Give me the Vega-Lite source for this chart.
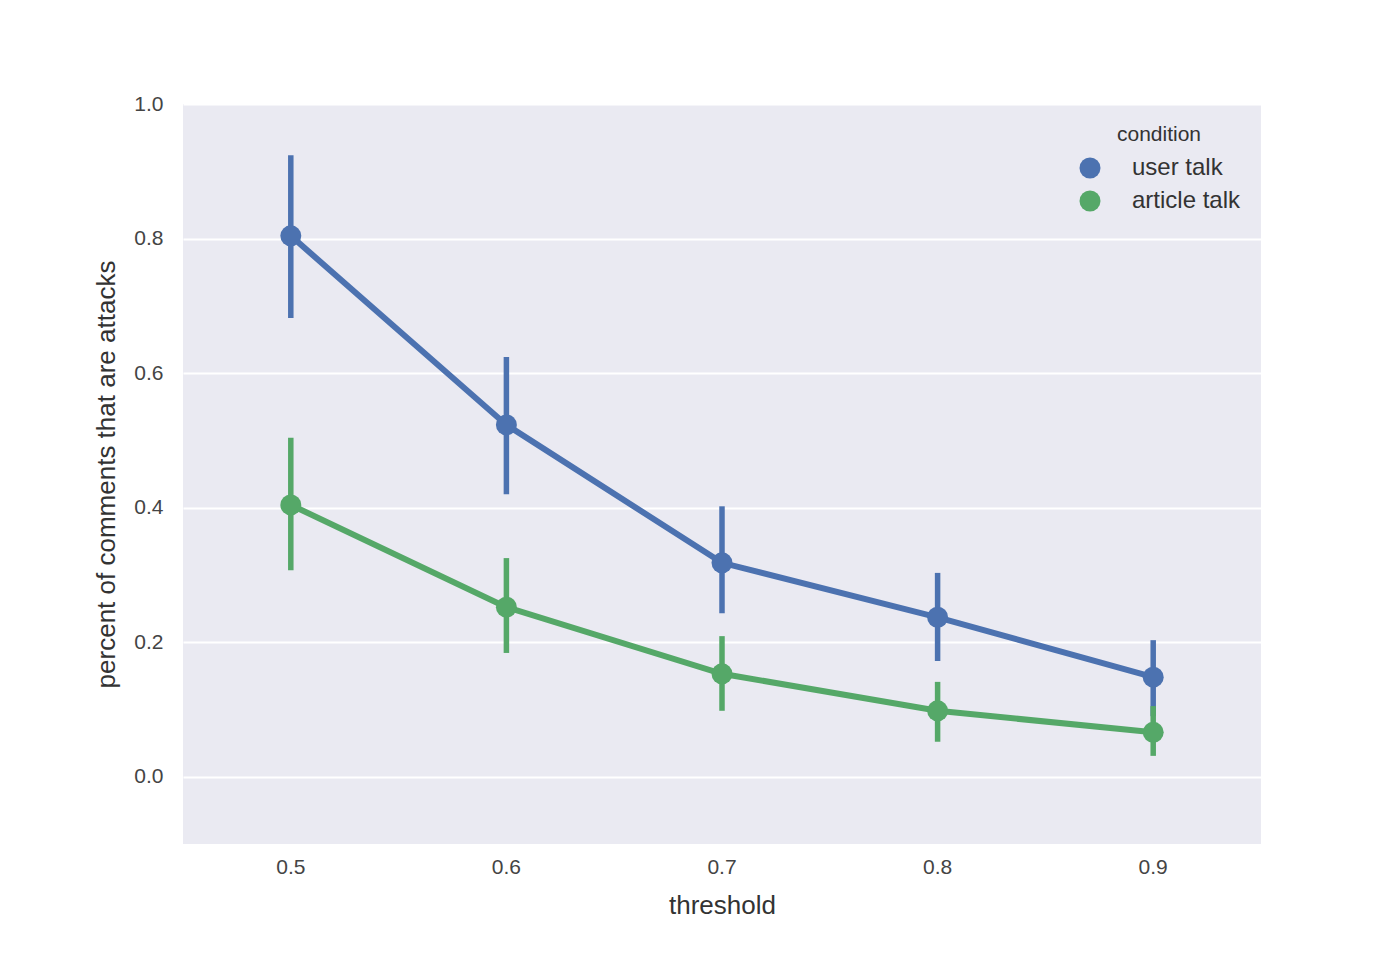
{
  "$schema": "https://vega.github.io/schema/vega-lite/v6.json",
  "autosize": "none",
  "width": 1078,
  "height": 740,
  "padding": {"left": 183, "top": 104, "right": 128, "bottom": 114},
  "background": "white",
  "config": {
    "font": "Liberation Sans",
    "view": {"fill": "#EAEAF2", "stroke": null},
    "axis": {"grid": false, "ticks": false, "domain": false, "labelColor": "#444444", "titleColor": "#333333", "labelFontSize": 21, "titleFontSize": 26, "titleFontWeight": "normal", "labelFont": "Liberation Sans", "titleFont": "Liberation Sans"},
    "legend": {"labelFont": "Liberation Sans", "titleFont": "Liberation Sans"}
  },
  "data": {
    "values": [
      {"threshold": "0.5", "condition": "user talk", "mean": 0.804, "lo": 0.682, "hi": 0.924},
      {"threshold": "0.6", "condition": "user talk", "mean": 0.523, "lo": 0.420, "hi": 0.624},
      {"threshold": "0.7", "condition": "user talk", "mean": 0.318, "lo": 0.243, "hi": 0.402},
      {"threshold": "0.8", "condition": "user talk", "mean": 0.237, "lo": 0.172, "hi": 0.303},
      {"threshold": "0.9", "condition": "user talk", "mean": 0.148, "lo": 0.090, "hi": 0.203},
      {"threshold": "0.5", "condition": "article talk", "mean": 0.404, "lo": 0.307, "hi": 0.504},
      {"threshold": "0.6", "condition": "article talk", "mean": 0.252, "lo": 0.184, "hi": 0.325},
      {"threshold": "0.7", "condition": "article talk", "mean": 0.153, "lo": 0.098, "hi": 0.209},
      {"threshold": "0.8", "condition": "article talk", "mean": 0.098, "lo": 0.052, "hi": 0.141},
      {"threshold": "0.9", "condition": "article talk", "mean": 0.066, "lo": 0.031, "hi": 0.105}
    ]
  },
  "encoding": {
    "x": {
      "field": "threshold", "type": "ordinal", "sort": ["0.5", "0.6", "0.7", "0.8", "0.9"],
      "scale": {"type": "band", "paddingInner": 0, "paddingOuter": 0},
      "axis": {"title": "threshold", "labelAngle": 0, "labelPadding": 12, "titlePadding": 15}
    },
    "color": {
      "field": "condition", "type": "nominal",
      "scale": {"domain": ["user talk", "article talk"], "range": ["#4C72B0", "#55A868"]},
      "legend": {
        "orient": "top-right", "offset": 20, "padding": 0,
        "title": "condition", "titleFontSize": 21, "titleFontWeight": "normal", "titleColor": "#333333",
        "titleAnchor": "middle", "titlePadding": 11,
        "labelFontSize": 24, "labelColor": "#333333", "labelOffset": 30,
        "symbolType": "circle", "symbolSize": 440, "symbolStrokeWidth": 0, "rowPadding": 9,
        "encode": {"symbols": {"update": {"fill": {"scale": "color", "field": "value"}, "fillOpacity": {"value": 1}, "strokeWidth": {"value": 0}}}}
      }
    }
  },
  "layer": [
    {
      "mark": {"type": "rule", "strokeWidth": 5.5},
      "encoding": {
        "y": {"field": "lo", "type": "quantitative", "scale": {"domain": [-0.1, 1.0], "nice": false, "zero": false},
          "axis": {"title": "percent of comments that are attacks", "values": [0, 0.2, 0.4, 0.6, 0.8, 1.0], "format": ".1f", "grid": true, "gridColor": "white", "gridWidth": 1.8, "labelPadding": 20, "titlePadding": 14}},
        "y2": {"field": "hi"}
      }
    },
    {
      "mark": {"type": "line", "strokeWidth": 6},
      "encoding": {"y": {"field": "mean", "type": "quantitative"}}
    },
    {
      "mark": {"type": "point", "shape": "circle", "filled": true, "size": 440, "opacity": 1},
      "encoding": {"y": {"field": "mean", "type": "quantitative"}}
    }
  ]
}
